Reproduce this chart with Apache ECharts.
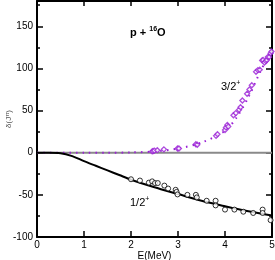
<!DOCTYPE html>
<html><head><meta charset="utf-8">
<script src="https://cdn.jsdelivr.net/npm/echarts@6/dist/echarts.min.js"></script>
<style>html,body{margin:0;padding:0;background:#fff}#c{width:275px;height:260px}</style>
</head><body><div id="c"></div>
<script>
// Theory curves
const curveX  = [0, 0.25, 0.5, 0.75, 1, 1.25, 1.5, 1.75, 2, 2.5, 3, 3.5, 4, 4.5, 5];
const half    = [0, 0, -0.5, -4, -10, -15.5, -21, -26.5, -32, -41, -49, -57, -63.5, -69.5, -74.5];
const threeX  = [0, 1, 1.5, 2, 2.5, 3, 3.5, 4, 4.25, 4.5, 4.75, 5];
const three   = [0, 0, 0, 0.3, 1.5, 5, 12, 26, 42, 66, 96, 123];
// Experimental phase shifts 1/2+
const expHalfX = [2.0, 2.19, 2.38, 2.45, 2.51, 2.57, 2.71, 2.79, 2.95, 2.97, 2.99, 3.2, 3.38, 3.4, 3.61, 3.8, 3.8, 4.0, 4.2, 4.39, 4.6, 4.8, 4.8, 4.97];
const expHalfY = [-31.5, -33, -35.5, -34, -36, -36, -39, -42.5, -44, -46.5, -49.5, -50, -50, -53, -57, -57, -62.5, -67.5, -67.5, -70, -71.5, -67.5, -71.5, -80];
// Experimental phase shifts 3/2+
const expThreeX = [2.45, 2.47, 2.5, 2.56, 2.70, 2.99, 3.02, 3.38, 3.41, 3.81, 3.84, 4.0, 4.02, 4.05, 4.07, 4.18, 4.23, 4.3, 4.33, 4.37, 4.47, 4.52, 4.57, 4.66, 4.7, 4.74, 4.79, 4.81, 4.84, 4.87, 4.89, 4.91, 4.94, 4.97, 4.99];
const expThreeY = [1.5, 2, 2.5, 3, 4, 5, 5, 10, 9.5, 20, 22, 27, 30, 33, 31, 44.5, 47, 51, 54, 62, 70, 75, 80, 96, 98, 98.5, 109.5, 110, 107, 108.7, 110, 113.5, 113.5, 118, 120];
const zeroX = [0, 5];
const xTicks = [0, 1, 2, 3, 4, 5];
const yTicks = [-100, -50, 0, 50, 100, 150];

const zip = (a, b) => a.map((v, i) => [v, b[i]]);
const purple = '#9a1fd6';
const font = 'Liberation Sans, Arial, sans-serif';

const chart = echarts.init(document.getElementById('c'));
function axis(extra, tickLen, showLine) {
  return Object.assign({
    type: 'value',
    axisLine: {show: showLine, onZero: false, lineStyle: {color: '#000', width: 2}},
    splitLine: {show: false},
    axisTick: {show: true, inside: true, length: tickLen, lineStyle: {width: 1.5, color: '#000'}},
    axisLabel: {show: false}
  }, extra);
}
chart.setOption({
  animation: false,
  grid: {left: 37, right: 3, top: 1, bottom: 23, containLabel: false, outerBoundsMode: 'none'},
  xAxis: [
    axis({
      min: 0, max: 5, interval: 1, position: 'bottom',
      axisLabel: {show: true, color: '#000', fontSize: 10, fontFamily: font, margin: 3,
        formatter: v => xTicks.includes(v) ? String(v) : ''},
      name: 'E(MeV)', nameLocation: 'middle', nameGap: 14, nameMoveOverlap: false,
      nameTextStyle: {color: '#000', fontSize: 10, fontFamily: font}
    }, 6, true),
    axis({min: 0, max: 5, interval: 1, position: 'top'}, 5, true)
  ],
  yAxis: [
    axis({
      min: -100, max: 180, interval: 50, position: 'left',
      axisLabel: {show: true, color: '#000', fontSize: 10, fontFamily: font, margin: 4,
        formatter: v => yTicks.includes(v) ? String(v) : ''},
      name: '{a|δ(J}{s|π}{a|)}', nameLocation: 'middle', nameGap: 23, nameRotate: 90, nameMoveOverlap: false,
      nameTextStyle: {rich: {
        a: {color: '#555', fontSize: 8, fontFamily: font},
        s: {color: '#555', fontSize: 6, fontFamily: font, verticalAlign: 'top', padding: [0,0,4,0]}
      }}
    }, 6, true),
    axis({min: -100, max: 180, interval: 50, position: 'right'}, 6, true),
    axis({min: -100, max: 180, interval: 25, position: 'left'}, 3, false),
    axis({min: -100, max: 180, interval: 25, position: 'right'}, 3, false)
  ],
  series: [
    {type: 'line', data: zeroX.map(x => [x, 0]), symbol: 'none',
     lineStyle: {color: '#8a8a8a', width: 2}, z: 1},
    {type: 'line', data: zip(threeX, three), smooth: 0.3, symbol: 'none',
     lineStyle: {color: purple, width: 2, type: [1.5, 5]}, z: 3},
    {type: 'line', data: zip(curveX, half), smooth: 0.3, symbol: 'none',
     lineStyle: {color: '#000', width: 2}, z: 3},
    {type: 'scatter', data: zip(expHalfX, expHalfY), symbol: 'circle', symbolSize: 5,
     itemStyle: {color: '#fff', borderColor: '#000', borderWidth: 1}, z: 4},
    {type: 'scatter', data: zip(expThreeX, expThreeY), symbol: 'diamond', symbolSize: 5,
     itemStyle: {color: '#fff', borderColor: purple, borderWidth: 1.3}, z: 4}
  ],
  graphic: [
    {type: 'text', left: 130, top: 26, style: {
      text: '{b|p + }{s|16}{b|O}',
      rich: {b: {fontSize: 11, fontWeight: 'bold', fontFamily: font, fill: '#000'},
             s: {fontSize: 7, fontWeight: 'bold', fontFamily: font, fill: '#000', verticalAlign: 'top', padding:[0,0,6,0]}}}},
    {type: 'text', left: 221, top: 80, style: {
      text: '{b|3/2}{s|+}',
      rich: {b: {fontSize: 11, fontFamily: font, fill: '#000'},
             s: {fontSize: 7, fontFamily: font, fill: '#000', padding:[0,0,6,0]}}}},
    {type: 'text', left: 130, top: 196, style: {
      text: '{b|1/2}{s|+}',
      rich: {b: {fontSize: 11, fontFamily: font, fill: '#000'},
             s: {fontSize: 7, fontFamily: font, fill: '#000', padding:[0,0,6,0]}}}}
  ]
});
</script></body></html>
